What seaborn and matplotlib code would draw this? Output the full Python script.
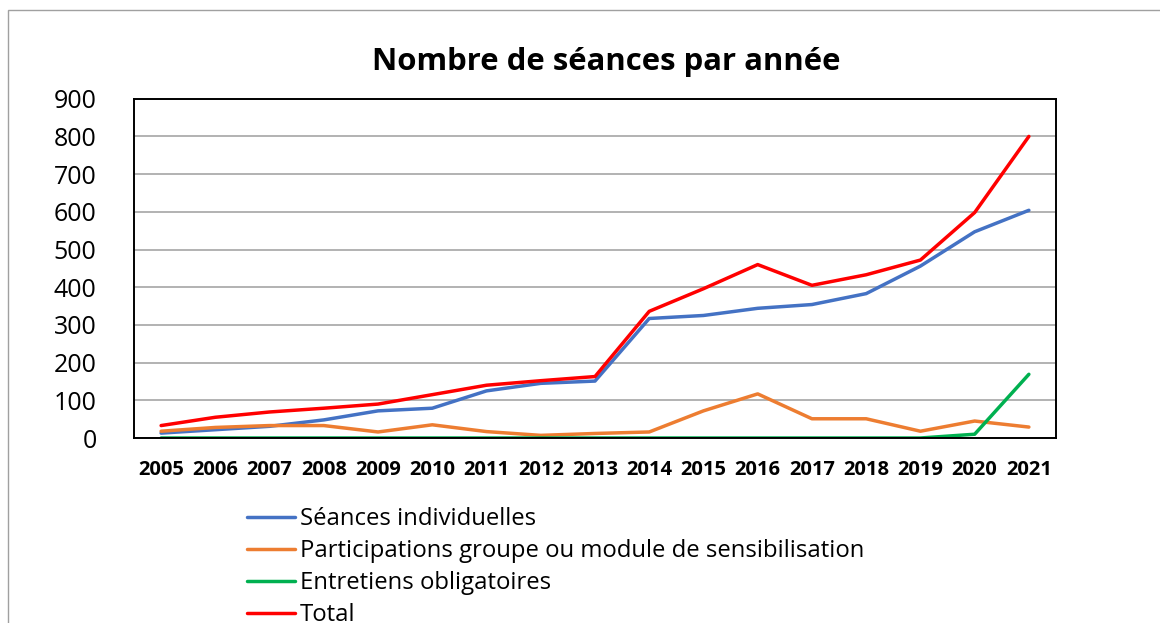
import matplotlib
matplotlib.use("Agg")
import matplotlib.pyplot as plt
import matplotlib.patches as mpatches
import seaborn as sns
import pandas as pd

years = [str(y) for y in range(2005, 2022)]
individuelles = [13, 22, 31, 48, 72, 79, 125, 145, 151, 317, 325, 344, 354, 383, 456, 547, 604]
participations = [18, 28, 33, 33, 16, 35, 17, 7, 12, 16, 72, 117, 51, 51, 18, 45, 29]
obligatoires = [0, 0, 0, 0, 0, 0, 0, 0, 0, 0, 0, 0, 0, 0, 0, 10, 169]
total = [33, 55, 69, 79, 90, 115, 140, 152, 163, 336, 396, 460, 405, 433, 472, 598, 800]

series_names = ["Séances individuelles",
                "Participations groupe ou module de sensibilisation",
                "Entretiens obligatoires",
                "Total"]
colors = ["#4472C4", "#ED7D31", "#00B050", "#FF0000"]

rows = []
for name, vals in zip(series_names, [individuelles, participations, obligatoires, total]):
    for y, v in zip(years, vals):
        rows.append({"Année": y, "Valeur": v, "Série": name})
df = pd.DataFrame(rows)

sns.set_style("white")
plt.rcParams["font.family"] = ["Open Sans", "DejaVu Sans"]
plt.rcParams["text.color"] = "black"
plt.rcParams["xtick.color"] = "black"
plt.rcParams["ytick.color"] = "black"

fig = plt.figure(figsize=(11.6, 6.23), dpi=100)
ax = fig.add_axes([134/1160, 1-438/623, (1056-134)/1160, (438-98.7)/623])

sns.lineplot(data=df, x="Année", y="Valeur", hue="Série", hue_order=series_names,
             palette=colors, linewidth=2.5, sort=False, ax=ax, legend=False)

ax.set_xlim(-0.5, 16.5)
ax.set_ylim(0, 900)
ax.set_yticks(range(0, 901, 100))
ax.yaxis.grid(True, color="#a6a6a6", linewidth=1.2)
ax.xaxis.grid(False)
ax.set_axisbelow(True)
for s in ax.spines.values():
    s.set_color("black")
    s.set_linewidth(1.4)
ax.set_xlabel("")
ax.set_ylabel("")
ax.tick_params(axis="y", length=0, pad=27, labelsize=18, labelcolor="black")
ax.tick_params(axis="x", length=0, pad=16, labelsize=14.5, labelcolor="black")
for lbl in ax.get_xticklabels():
    lbl.set_fontweight("bold")

fig.text(606/1160, 1-62/623, "Nombre de séances par année", ha="center", va="center",
         fontsize=22.4, fontweight="bold", color="black")

handles = [plt.Line2D([], [], color=c, linewidth=2.5) for c in colors]
leg = fig.legend(handles, series_names, loc="upper left", bbox_to_anchor=(247/1160, 1-507/623),
                 frameon=False, fontsize=17.2, handlelength=2.0, handletextpad=0.2,
                 labelspacing=0.34, borderpad=0, borderaxespad=0)
for t in leg.get_texts():
    t.set_color("black")

rect = mpatches.Rectangle((8/1160, -0.2), 1.5, 1.2 - 10/623, transform=fig.transFigure,
                          fill=False, edgecolor="#a0a0a0", linewidth=1.0)
fig.patches.append(rect)

fig.savefig("out.png", dpi=100)
